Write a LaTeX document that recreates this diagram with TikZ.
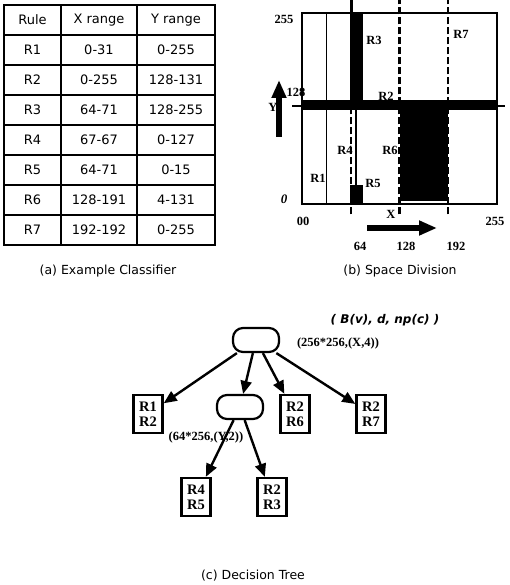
\documentclass[tikz,border=0pt]{standalone}
\usepackage{fontspec}
\setmainfont{Liberation Serif}
\setsansfont{DejaVu Sans}
\usetikzlibrary{positioning,arrows.meta}

\begin{document}
\begin{tikzpicture}[x=1pt, y=-1pt,
  cell/.style={draw, line width=1.4pt, minimum height=30pt, inner sep=0pt, font=\sffamily\fontsize{13}{14}\selectfont},
  capt/.style={font=\sffamily\fontsize{12.5}{13}\selectfont, inner sep=0pt},
  axlab/.style={font=\bfseries\fontsize{12.5}{13}\selectfont, inner sep=0pt},
  rlab/.style={font=\bfseries\fontsize{12.5}{13}\selectfont, inner sep=0pt},
  cut/.style={line width=2.4pt, dash pattern=on 7pt off 3pt},
  bigarr/.style={line width=6pt, -{Triangle[length=18pt,width=14pt]}},
  inner/.style={draw, line width=2.2pt, rounded corners=10pt, minimum width=46pt, minimum height=24pt},
  leaf/.style={draw, line width=2.4pt, minimum width=29pt, minimum height=38pt, inner sep=0pt, align=center, font=\bfseries\fontsize{14.5}{15}\selectfont},
  tarr/.style={line width=2.4pt, -{Triangle[length=13pt,width=11pt]}},
  tlab/.style={font=\bfseries\fontsize{12.5}{13}\selectfont, inner sep=0pt}]
\useasboundingbox (0,0) rectangle (510,585);

% (a) rule table
\foreach \ru/\xr/\yr [count=\i] in {Rule/X range/Y range, R1/0-31/0-255, R2/0-255/128-131,
    R3/64-71/128-255, R4/67-67/0-127, R5/64-71/0-15, R6/128-191/4-131, R7/192-192/0-255} {
  \node[cell, minimum width=57pt] (ru-\i) at (32.5,30*\i-10) {\ru};
  \node[cell, minimum width=76pt] (xr-\i) at (99,30*\i-10) {\xr};
  \node[cell, minimum width=78pt] (yr-\i) at (176,30*\i-10) {\yr};
}
\node[capt] (capa) at (108,271) {(a) Example Classifier};

% (b) space division, in field values
\begin{scope}[shift={(302,204)}, x=0.7617pt, y=0.7461pt]
  \fill (0,126) rectangle (256,139);
  \draw[line width=2pt] (-13,132) -- (0,132) (256,132) -- (266,132);
  \fill (63,128) rectangle (80,256);
  \draw[line width=2.5pt] (65,256) -- (65,273);
  \fill (63,0) rectangle (80,25);
  \fill (128,4) rectangle (192,126);
  \draw[line width=1.6pt] (0,0) rectangle (256,256);
  \draw[line width=1.6pt] (32,0) -- (32,256);
  \draw[line width=1.6pt] (71,0) -- (71,126);
  \draw[cut] (64,-14) -- (64,126);
  \draw[cut] (128,-14) -- (128,273);
  \draw[cut] (192,-14) -- (192,273);
\end{scope}
\node[axlab] (ytop) at (284,19) {255};
\node[axlab] (ymid) at (296,92) {128};
\node[axlab] (ylab) at (273,107) {Y};
\node[axlab, font=\bfseries\itshape\fontsize{13}{13}\selectfont] (yzero) at (284,199) {0};
\node[axlab] (xzero) at (303,221) {00};
\node[axlab] (xlab) at (391,214) {X};
\node[axlab] (xend) at (495,221) {255};
\node[axlab] (x64) at (360,246) {64};
\node[axlab] (x128) at (406,246) {128};
\node[axlab] (x192) at (456,246) {192};
\node[rlab] (r3) at (374,40) {R3};
\node[rlab] (r7) at (461,34) {R7};
\node[rlab] (r2) at (386,96) {R2};
\node[rlab] (r4) at (345,150) {R4};
\node[rlab] (r6) at (390,150) {R6};
\node[rlab] (r1) at (318,178) {R1};
\node[rlab] (r5) at (373,183) {R5};
\coordinate (ya) at (279,137);
\coordinate (yb) at (279,80);
\coordinate (xa) at (367,228);
\coordinate (xb) at (437,228);
\draw[bigarr] (ya) -- (yb);
\draw[bigarr] (xa) -- (xb);
\node[capt] (capb) at (400,271) {(b) Space Division};

% (c) decision tree
\node[inner] (root) at (256,340) {};
\node[leaf] (t12) at (148,414) {R1\\R2};
\node[inner] (mid) at (240,407) {};
\node[leaf] (t26) at (295,414) {R2\\R6};
\node[leaf] (t27) at (371,414) {R2\\R7};
\node[leaf] (t45) at (196,497) {R4\\R5};
\node[leaf] (t23) at (272,497) {R2\\R3};
\node[tlab, font=\sffamily\bfseries\itshape\fontsize{12}{13}\selectfont] (hdr) at (385,320) {( B(v), d, np(c) )};
\node[tlab] (rootlab) at (338,343) {(256*256,(X,4))};
\node[tlab] (midlab) at (206,437) {(64*256,(Y,2))};
\draw[tarr] (root) -- (t12);
\draw[tarr] (root) -- (mid);
\draw[tarr] (root) -- (t26);
\draw[tarr] (root) -- (t27);
\draw[tarr] (mid) -- (t45);
\draw[tarr] (mid) -- (t23);
\node[capt] (capc) at (253,576) {(c) Decision Tree};
\end{tikzpicture}
\end{document}
